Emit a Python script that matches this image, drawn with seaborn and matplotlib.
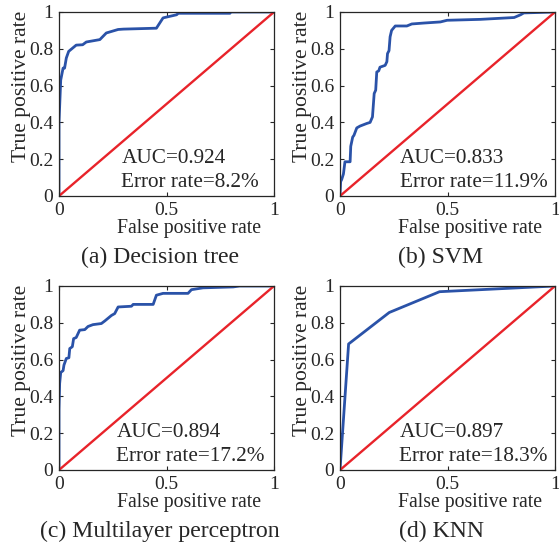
import matplotlib
matplotlib.use("Agg")
import matplotlib.pyplot as plt
import seaborn as sns
import pandas as pd

# ROC curves (fpr, tpr)
dt_fpr = [0, 0, 0.008, 0.019, 0.026, 0.034, 0.045, 0.08, 0.11, 0.127, 0.19, 0.22, 0.275, 0.30, 0.453, 0.484, 0.547, 0.555, 0.795, 0.80, 1.0]
dt_tpr = [0, 0.40, 0.63, 0.695, 0.695, 0.75, 0.786, 0.82, 0.822, 0.837, 0.85, 0.886, 0.905, 0.907, 0.912, 0.968, 0.985, 0.993, 0.993, 1.0, 1.0]

svm_fpr = [0, 0.003, 0.008, 0.016, 0.023, 0.047, 0.050, 0.059, 0.065, 0.078, 0.093, 0.124, 0.140, 0.151, 0.159, 0.166, 0.171, 0.18, 0.186, 0.21, 0.218, 0.221, 0.228, 0.233, 0.240, 0.257, 0.311, 0.334, 0.39, 0.467, 0.498, 0.653, 0.81, 0.84, 0.855, 1.0]
svm_tpr = [0, 0.078, 0.09, 0.12, 0.186, 0.186, 0.27, 0.32, 0.33, 0.37, 0.38, 0.394, 0.40, 0.43, 0.557, 0.575, 0.674, 0.68, 0.70, 0.71, 0.73, 0.774, 0.79, 0.865, 0.90, 0.924, 0.924, 0.935, 0.94, 0.946, 0.955, 0.96, 0.97, 0.985, 0.995, 1.0]

mlp_fpr = [0, 0, 0.003, 0.008, 0.019, 0.023, 0.034, 0.046, 0.05, 0.062, 0.068, 0.080, 0.096, 0.12, 0.135, 0.158, 0.197, 0.213, 0.244, 0.259, 0.275, 0.337, 0.345, 0.438, 0.453, 0.484, 0.60, 0.616, 0.67, 0.81, 0.84, 1.0]
mlp_tpr = [0, 0.33, 0.47, 0.53, 0.54, 0.57, 0.606, 0.61, 0.66, 0.67, 0.714, 0.72, 0.76, 0.763, 0.78, 0.79, 0.796, 0.81, 0.84, 0.85, 0.886, 0.89, 0.90, 0.90, 0.95, 0.96, 0.96, 0.98, 0.99, 0.995, 1.0, 1.0]

knn_fpr = [0, 0.04, 0.229, 0.463, 1.0]
knn_tpr = [0, 0.685, 0.856, 0.969, 1.0]

captions = ["(a) Decision tree", "(b) SVM", "(c) Multilayer perceptron", "(d) KNN"]
auc_vals = [0.924, 0.833, 0.894, 0.897]
err_vals = [8.2, 11.9, 17.2, 18.3]
curves = [(dt_fpr, dt_tpr), (svm_fpr, svm_tpr), (mlp_fpr, mlp_tpr), (knn_fpr, knn_tpr)]
text_x = [0.29, 0.277, 0.267, 0.276]

sns.set_style("ticks")
plt.rcParams["font.family"] = ["Liberation Serif", "DejaVu Serif"]

blue = "#2a52a8"
red = "#e8232a"

fig = plt.figure(figsize=(5.59, 5.43), dpi=100)
W, H = 559, 543
boxes = [(59, 12), (340, 12), (59, 286), (340, 286)]

for i, (px, py) in enumerate(boxes):
    ax = fig.add_axes([px / W, (H - py - 184) / H, 215 / W, 184 / H])
    fpr, tpr = curves[i]
    df = pd.DataFrame({"fpr": fpr, "tpr": tpr})
    sns.lineplot(data=df, x="fpr", y="tpr", ax=ax, color=blue, lw=2.0,
                 sort=False, estimator=None)
    diag = pd.DataFrame({"x": [0, 1], "y": [0, 1]})
    sns.lineplot(data=diag, x="x", y="y", ax=ax, color=red, lw=1.7,
                 sort=False, estimator=None)
    ax.set_xlim(0, 1)
    ax.set_ylim(0, 1)
    ax.set_xticks([0, 0.5, 1])
    ax.set_xticklabels(["0", "0.5", "1"])
    ax.set_yticks([0, 0.2, 0.4, 0.6, 0.8, 1])
    ax.set_yticklabels(["0", "0.2", "0.4", "0.6", "0.8", "1"])
    ax.tick_params(direction="in", top=True, right=True, labelsize=14,
                   length=3, width=0.8, pad=4)
    ax.tick_params(axis="x", pad=4)
    for s in ax.spines.values():
        s.set_linewidth(0.9)
    ax.set_xlabel("False positive rate", fontsize=14.2)
    ax.set_ylabel("True positive rate", fontsize=15.5)
    ax.xaxis.set_label_coords(0.605, -0.125)
    ax.yaxis.set_label_coords(-0.13, 0.595)
    ax.text(text_x[i], 0.179, f"AUC={auc_vals[i]:.3f}", fontsize=15.3,
            va="baseline", ha="left")
    ax.text(text_x[i], 0.05, f"Error rate={err_vals[i]}%", fontsize=15.3,
            va="baseline", ha="left")
    ax.text(0.47, -0.364, captions[i], fontsize=17.1, ha="center",
            va="baseline", transform=ax.transAxes)

fig.savefig("out.png", dpi=100)
